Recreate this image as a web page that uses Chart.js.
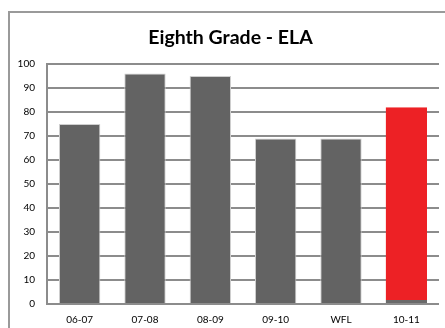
<!DOCTYPE html>
<html>
<head>
<meta charset="utf-8">
<script src="https://cdn.jsdelivr.net/npm/chart.js@4/dist/chart.umd.min.js"></script>
<style>
  html, body { margin: 0; padding: 0; background: #fff; }
  #wrap { position: relative; width: 445px; height: 328px; }
</style>
</head>
<body>
<div id="wrap"><canvas id="c" width="445" height="328"></canvas></div>
<script>
// School years compared, with the current year highlighted
const categories = ['06-07', '07-08', '08-09', '09-10', 'WFL', '10-11'];
const scores = [75, 96, 95, 69, 69, 82];
const yTicks = [0, 10, 20, 30, 40, 50, 60, 70, 80, 90, 100];

const GRAY = '#636363';
const RED = '#ED2125';
const GRID = '#8c8c8c';

// Frame around the chart (top and left edges); title centred inside the frame
const framePlugin = {
  id: 'frame',
  afterLayout(chart) {
    if (chart.titleBlock) {
      chart.titleBlock.left = 20;
      chart.titleBlock.right = chart.width - 4;
    }
  },
  beforeDraw(chart) {
    const ctx = chart.ctx;
    ctx.save();
    ctx.fillStyle = '#fff';
    ctx.fillRect(0, 0, chart.width, chart.height);
    ctx.strokeStyle = '#9a9a9a';
    ctx.lineWidth = 2;
    ctx.beginPath();
    ctx.moveTo(9, chart.height);
    ctx.lineTo(9, 12);
    ctx.lineTo(chart.width, 12);
    ctx.stroke();
    ctx.restore();
  }
};

const last = scores.length - 1;
new Chart(document.getElementById('c'), {
  type: 'bar',
  data: {
    labels: categories,
    datasets: [{
      data: scores,
      backgroundColor: scores.map((v, i) => i === last ? RED : GRAY),
      borderColor: scores.map((v, i) => i === last ? '#6a6a6a' : '#cfcfcf'),
      borderWidth: scores.map((v, i) => i === last ? { top: 0, left: 0, right: 0, bottom: 3 } : 1),
      borderSkipped: scores.map((v, i) => i === last ? false : 'start'),
      barPercentage: 0.633,
      categoryPercentage: 1
    }]
  },
  options: {
    responsive: false,
    animation: false,
    devicePixelRatio: 1,
    layout: { padding: { left: 0, right: 6, top: 0, bottom: 0 } },
    plugins: {
      legend: { display: false },
      tooltip: { enabled: false },
      title: {
        display: true,
        text: 'Eighth Grade - ELA',
        color: '#000',
        font: { family: 'Lato', size: 19.5, weight: 'bold', lineHeight: 1.2 },
        padding: { top: 26, bottom: 14.6 }
      }
    },
    scales: {
      x: {
        grid: { display: false, drawTicks: false },
        border: { display: false },
        ticks: {
          color: '#000',
          padding: 10,
          font: { family: 'Lato', size: 10 }
        },
        afterFit(scale) { scale.height = 24; }
      },
      y: {
        min: 0,
        max: 100,
        afterBuildTicks(scale) { scale.ticks = yTicks.map(v => ({ value: v })); },
        grid: { color: GRID, lineWidth: 2, drawTicks: false },
        border: { display: true, color: GRID, width: 2 },
        ticks: {
          color: '#000',
          padding: 12,
          font: { family: 'Lato', size: 10 }
        },
        afterFit(scale) { scale.width = 47; }
      }
    }
  },
  plugins: [framePlugin]
});
</script>
</body>
</html>
